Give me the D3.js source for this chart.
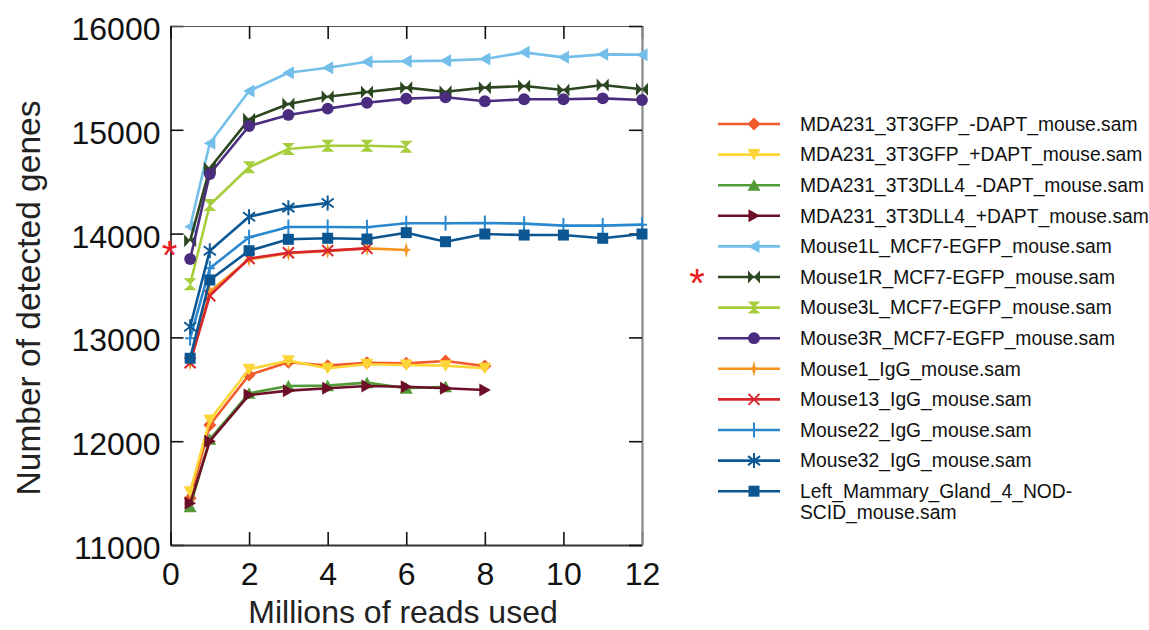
<!DOCTYPE html>
<html>
<head>
<meta charset="utf-8">
<script src="https://cdn.jsdelivr.net/npm/d3@7"></script>
<style>
  html, body { margin: 0; padding: 0; background: #fff; }
  svg { display: block; font-family: "Liberation Sans", Arial, sans-serif; }
</style>
</head>
<body>
<svg id="chart" width="1149" height="630"></svg>
<script>
// Millions of reads sampled
const xFull = [0.5, 1, 2, 3, 4, 5, 6, 7, 8, 9, 10, 11, 12];

// Detected gene counts per library
const gfpMinusDapt   = [11450, 12156, 12638, 12760, 12728, 12756, 12750, 12773, 12724];
const gfpPlusDapt    = [11514, 12204, 12693, 12776, 12703, 12741, 12734, 12728, 12703];
const dll4MinusDapt  = [11369, 12018, 12461, 12532, 12535, 12564, 12510, 12525];
const dll4PlusDapt   = [11402, 12000, 12445, 12487, 12510, 12532, 12525, 12510, 12493];
const mouse1L        = [14067, 14870, 15374, 15550, 15598, 15656, 15660, 15666, 15682, 15746, 15698, 15727, 15724];
const mouse1R        = [13932, 14629, 15101, 15249, 15319, 15364, 15406, 15367, 15406, 15422, 15383, 15432, 15390];
const mouse3L        = [13512, 14276, 14639, 14815, 14847, 14847, 14837];
const mouse3R        = [13755, 14574, 15037, 15143, 15204, 15261, 15300, 15313, 15275, 15294, 15294, 15303, 15287];
const mouse1IgG      = [12756, 13440, 13752, 13810, 13832, 13858, 13842];
const mouse13IgG     = [12756, 13402, 13760, 13815, 13836, 13858];
const mouse22IgG     = [12991, 13666, 13964, 14064, 14064, 14061, 14099, 14099, 14102, 14096, 14077, 14077, 14086];
const mouse32IgG     = [13103, 13835, 14163, 14250, 14295];
const leftMammary    = [12799, 13553, 13835, 13945, 13955, 13948, 14009, 13922, 13996, 13986, 13986, 13955, 13996];

const seriesNames = [
  "MDA231_3T3GFP_-DAPT_mouse.sam",
  "MDA231_3T3GFP_+DAPT_mouse.sam",
  "MDA231_3T3DLL4_-DAPT_mouse.sam",
  "MDA231_3T3DLL4_+DAPT_mouse.sam",
  "Mouse1L_MCF7-EGFP_mouse.sam",
  "Mouse1R_MCF7-EGFP_mouse.sam",
  "Mouse3L_MCF7-EGFP_mouse.sam",
  "Mouse3R_MCF7-EGFP_mouse.sam",
  "Mouse1_IgG_mouse.sam",
  "Mouse13_IgG_mouse.sam",
  "Mouse22_IgG_mouse.sam",
  "Mouse32_IgG_mouse.sam",
  "Left_Mammary_Gland_4_NOD-SCID_mouse.sam"
];
const seriesValues = [gfpMinusDapt, gfpPlusDapt, dll4MinusDapt, dll4PlusDapt, mouse1L, mouse1R,
  mouse3L, mouse3R, mouse1IgG, mouse13IgG, mouse22IgG, mouse32IgG, leftMammary];
const seriesColors = ["#f15a2b", "#fdd537", "#529b37", "#6d0f27", "#74bfe9", "#2b4620",
  "#a6cd3b", "#4a2d7f", "#f7941e", "#d7262d", "#2a88cf", "#0c5894", "#0b5591"];
const seriesMarkers = ["diamond", "triDown", "triUp", "triRight", "triLeft", "bowtie",
  "hourglass", "circle", "spark", "cross", "plus", "asterisk", "square"];
const starredSeries = "Mouse1R_MCF7-EGFP_mouse.sam";

const xTicks = [0, 2, 4, 6, 8, 10, 12];
const yTicks = [11000, 12000, 13000, 14000, 15000, 16000];

const svg = d3.select("#chart");
const x = d3.scaleLinear().domain([0, 12]).range([170.5, 642]);
const y = d3.scaleLinear().domain([11000, 16000]).range([545, 26]);

// Marker shapes (filled paths or stroked glyphs)
function markerPath(type) {
  switch (type) {
    case "diamond":   return "M0,-6.5L6.5,0L0,6.5L-6.5,0Z";
    case "triDown":   return "M-6.5,-5.5L6.5,-5.5L0,6Z";
    case "triUp":     return "M-6.5,5.5L6.5,5.5L0,-6Z";
    case "triRight":  return "M-5.5,-6.5L-5.5,6.5L6,0Z";
    case "triLeft":   return "M5.5,-6.5L5.5,6.5L-6,0Z";
    case "bowtie":    return "M-6,-6.5L0,0L-6,6.5Z M6,-6.5L0,0L6,6.5Z";
    case "hourglass": return "M-6.5,-6L6.5,-6L0,0Z M-6.5,6L6.5,6L0,0Z";
    case "circle":    return d3.symbol(d3.symbolCircle, 110)();
    case "square":    return "M-5.5,-5.5H5.5V5.5H-5.5Z";
    case "spark":     return "M0,-8L1.6,-1.6L5,0L1.6,1.6L0,8L-1.6,1.6L-5,0L-1.6,-1.6Z";
    case "cross":     return "M-5.5,-5.5L5.5,5.5M-5.5,5.5L5.5,-5.5";
    case "plus":      return "M0,-7.5V7.5M-5,0H5";
    case "asterisk":  return "M0,-7.5V7.5M-6,-4.5L6,4.5M-6,4.5L6,-4.5";
  }
}
const strokedMarkers = new Set(["cross", "plus", "asterisk"]);

function drawMarker(g, type, color) {
  const p = g.append("path").attr("d", markerPath(type));
  if (strokedMarkers.has(type)) {
    p.attr("fill", "none").attr("stroke", color).attr("stroke-width", 2);
  } else {
    p.attr("fill", color).attr("stroke", "none");
  }
}

// Axes frame
const axisFont = 32;
const gLeft = svg.append("g").attr("transform", `translate(${x(0)},0)`)
  .call(d3.axisLeft(y).tickValues(yTicks).tickFormat(d3.format("d")).tickSizeInner(-13).tickSizeOuter(0).tickPadding(10));
const gBottom = svg.append("g").attr("transform", `translate(0,${y(11000)})`)
  .call(d3.axisBottom(x).tickValues(xTicks).tickFormat(d3.format("d")).tickSizeInner(-13).tickSizeOuter(0).tickPadding(17));
const gTop = svg.append("g").attr("transform", `translate(0,${y(16000)})`)
  .call(d3.axisTop(x).tickValues(xTicks).tickFormat("").tickSizeInner(-13).tickSizeOuter(0));
const gRight = svg.append("g").attr("transform", `translate(${x(12)},0)`)
  .call(d3.axisRight(y).tickValues(yTicks).tickFormat("").tickSizeInner(-13).tickSizeOuter(0));

[gLeft, gBottom, gTop, gRight].forEach(g => {
  g.selectAll("text").attr("font-size", axisFont).attr("fill", "#111")
    .attr("font-family", '"Liberation Sans", Arial, sans-serif');
  g.selectAll(".tick line").attr("stroke", "#111").attr("stroke-width", 1.6);
});
gLeft.select(".domain").attr("stroke", "#111").attr("stroke-width", 1.6);
gBottom.select(".domain").attr("stroke", "#333").attr("stroke-width", 2);
gTop.select(".domain").attr("stroke", "#555").attr("stroke-width", 1);
gRight.select(".domain").attr("stroke", "#888").attr("stroke-width", 2.2);
gLeft.selectAll(".tick text").attr("dy", "0.42em");

// Axis titles
svg.append("text")
  .attr("x", 403).attr("y", 623)
  .attr("text-anchor", "middle")
  .attr("font-size", 32).attr("fill", "#222")
  .text("Millions of reads used");
svg.append("text")
  .attr("transform", "translate(40,298) rotate(-90)")
  .attr("text-anchor", "middle")
  .attr("font-size", 33.5).attr("fill", "#222")
  .text("Number of detected genes");

// Series lines and markers
const line = d3.line().x(d => x(d[0])).y(d => y(d[1]));
const plot = svg.append("g");
seriesValues.forEach((vals, i) => {
  const pts = vals.map((v, j) => [xFull[j], v]);
  const g = plot.append("g");
  g.append("path").datum(pts)
    .attr("d", line)
    .attr("fill", "none")
    .attr("stroke", seriesColors[i])
    .attr("stroke-width", 2.6)
    .attr("stroke-linejoin", "round");
  pts.forEach(p => {
    const m = g.append("g").attr("transform", `translate(${x(p[0])},${y(p[1])})`);
    drawMarker(m, seriesMarkers[i], seriesColors[i]);
  });
});

// Highlight asterisk beside the first point of the starred series
const starIdx = seriesNames.indexOf(starredSeries);
svg.append("text")
  .attr("x", x(0) - 1).attr("y", y(seriesValues[starIdx][0]) + 28)
  .attr("text-anchor", "middle")
  .attr("font-size", 40).attr("fill", "#ec1c24")
  .text("*");

// Legend
const legend = svg.append("g").attr("transform", "translate(718,124)");
const rowH = 30.6;
const legendFont = 19.3;
seriesNames.forEach((name, i) => {
  const row = legend.append("g").attr("transform", `translate(0,${i * rowH})`);
  row.append("line").attr("x1", 0).attr("x2", 62).attr("y1", 0).attr("y2", 0)
    .attr("stroke", seriesColors[i]).attr("stroke-width", 2.6);
  const m = row.append("g").attr("transform", "translate(36,0)");
  drawMarker(m, seriesMarkers[i], seriesColors[i]);
  const t = row.append("text").attr("x", 82).attr("y", 0).attr("dy", "0.35em")
    .attr("font-size", legendFont).attr("fill", "#111");
  if (name.startsWith("Left_Mammary")) {
    t.append("tspan").attr("x", 82).text("Left_Mammary_Gland_4_NOD-");
    t.append("tspan").attr("x", 82).attr("dy", "1.08em").text("SCID_mouse.sam");
  } else {
    t.text(name);
  }
  if (name === starredSeries) {
    row.append("text").attr("x", -21).attr("y", 20)
      .attr("text-anchor", "middle")
      .attr("font-size", 40).attr("fill", "#ec1c24").text("*");
  }
});
</script>
</body>
</html>
